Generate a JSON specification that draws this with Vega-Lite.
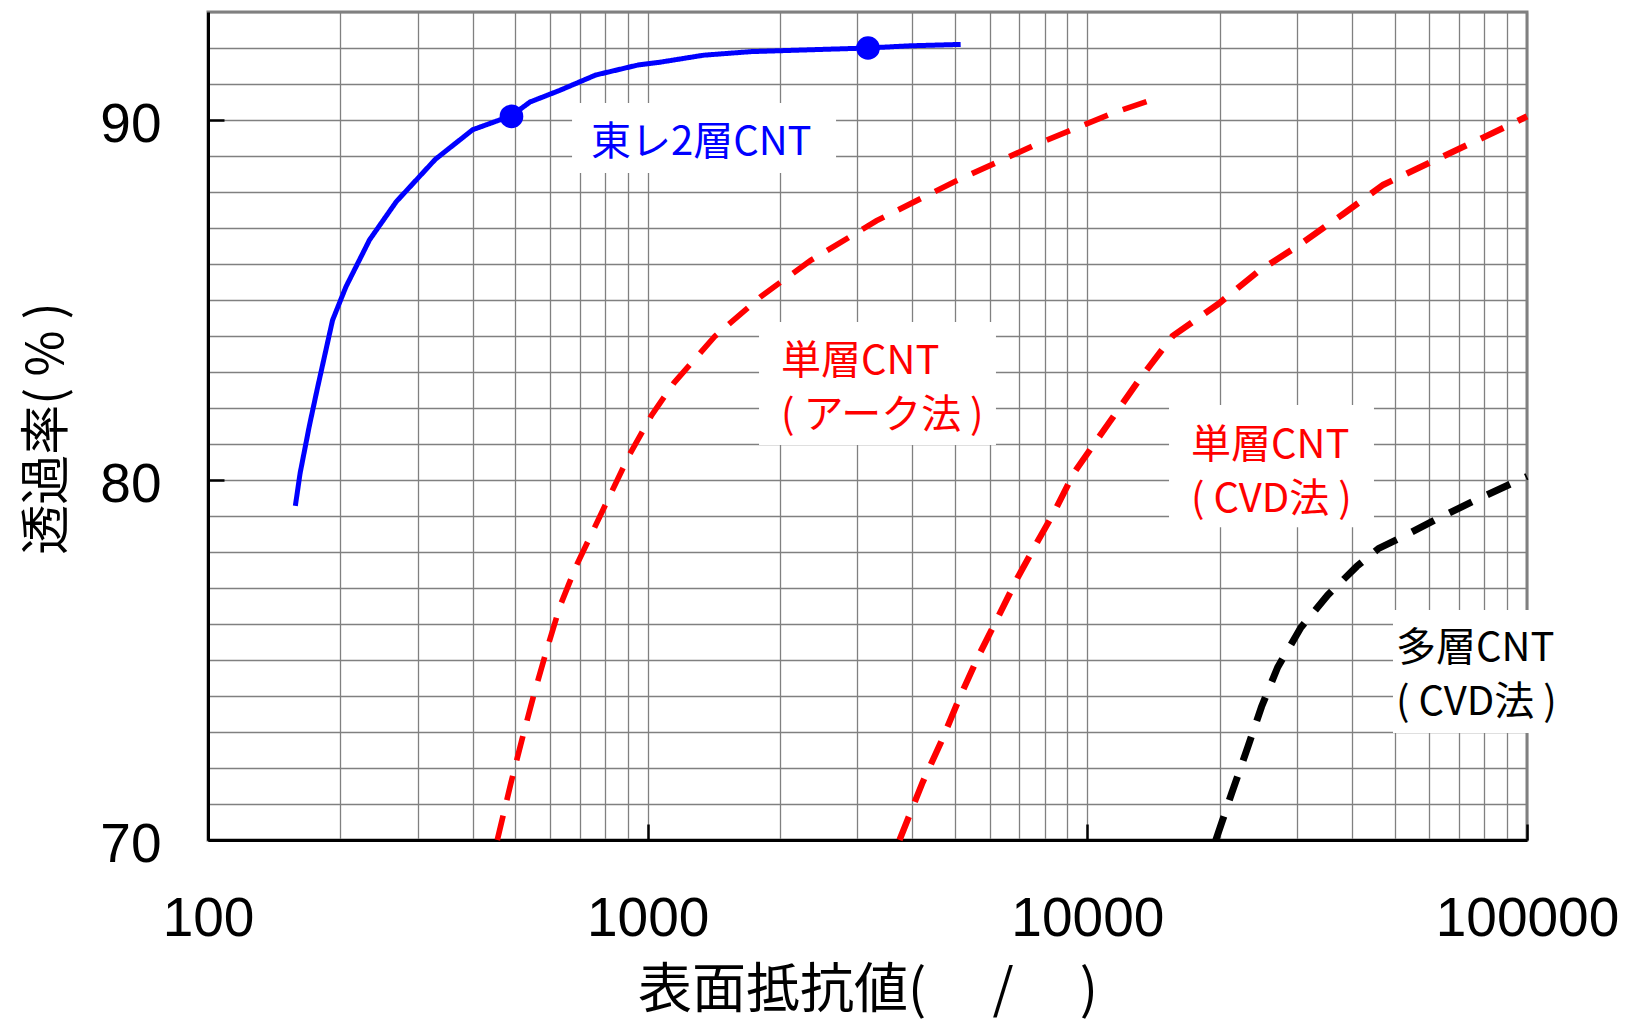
{
  "$schema": "https://vega.github.io/schema/vega-lite/v6.json",
  "width": 1319,
  "height": 828,
  "autosize": {"type": "none"},
  "padding": {"left": 208, "top": 12, "right": 105, "bottom": 182},
  "background": "white",
  "config": {
    "view": {"stroke": "#808080", "strokeWidth": 3},
    "axis": {"labelColor": "black", "titleColor": "black"}
  },
  "datasets": {
    "curves": [
      {"series": "toray", "R": 158, "T": 79.28},
      {"series": "toray", "R": 162, "T": 80.19},
      {"series": "toray", "R": 170, "T": 81.5},
      {"series": "toray", "R": 177, "T": 82.5},
      {"series": "toray", "R": 192, "T": 84.44},
      {"series": "toray", "R": 206, "T": 85.37},
      {"series": "toray", "R": 233, "T": 86.67},
      {"series": "toray", "R": 268, "T": 87.73},
      {"series": "toray", "R": 329, "T": 88.91},
      {"series": "toray", "R": 400, "T": 89.73},
      {"series": "toray", "R": 490, "T": 90.12},
      {"series": "toray", "R": 540, "T": 90.5},
      {"series": "toray", "R": 630, "T": 90.82},
      {"series": "toray", "R": 762, "T": 91.25},
      {"series": "toray", "R": 952, "T": 91.53},
      {"series": "toray", "R": 1060, "T": 91.6},
      {"series": "toray", "R": 1340, "T": 91.8},
      {"series": "toray", "R": 1722, "T": 91.9},
      {"series": "toray", "R": 2193, "T": 91.94},
      {"series": "toray", "R": 3171, "T": 92.0},
      {"series": "toray", "R": 3936, "T": 92.06},
      {"series": "toray", "R": 5151, "T": 92.1},
      {"series": "arc", "R": 455, "T": 70.0},
      {"series": "arc", "R": 489, "T": 71.6},
      {"series": "arc", "R": 518, "T": 72.8},
      {"series": "arc", "R": 550, "T": 74.0},
      {"series": "arc", "R": 590, "T": 75.3},
      {"series": "arc", "R": 632, "T": 76.5},
      {"series": "arc", "R": 687, "T": 77.6},
      {"series": "arc", "R": 745, "T": 78.5},
      {"series": "arc", "R": 808, "T": 79.4},
      {"series": "arc", "R": 909, "T": 80.7},
      {"series": "arc", "R": 1021, "T": 81.8},
      {"series": "arc", "R": 1148, "T": 82.7},
      {"series": "arc", "R": 1424, "T": 84.0},
      {"series": "arc", "R": 1811, "T": 85.1},
      {"series": "arc", "R": 2348, "T": 86.1},
      {"series": "arc", "R": 3315, "T": 87.2},
      {"series": "arc", "R": 5012, "T": 88.3},
      {"series": "arc", "R": 7580, "T": 89.3},
      {"series": "arc", "R": 11470, "T": 90.2},
      {"series": "arc", "R": 14340, "T": 90.6},
      {"series": "cvd", "R": 3740, "T": 70.0},
      {"series": "cvd", "R": 4220, "T": 71.6},
      {"series": "cvd", "R": 4680, "T": 72.8},
      {"series": "cvd", "R": 5100, "T": 73.9},
      {"series": "cvd", "R": 5650, "T": 75.1},
      {"series": "cvd", "R": 6270, "T": 76.2},
      {"series": "cvd", "R": 6950, "T": 77.3},
      {"series": "cvd", "R": 7710, "T": 78.3},
      {"series": "cvd", "R": 8400, "T": 79.1},
      {"series": "cvd", "R": 9325, "T": 80.2},
      {"series": "cvd", "R": 11070, "T": 81.5},
      {"series": "cvd", "R": 13150, "T": 82.8},
      {"series": "cvd", "R": 15630, "T": 84.0},
      {"series": "cvd", "R": 19900, "T": 84.9},
      {"series": "cvd", "R": 24500, "T": 85.8},
      {"series": "cvd", "R": 30100, "T": 86.5},
      {"series": "cvd", "R": 38300, "T": 87.4},
      {"series": "cvd", "R": 47100, "T": 88.2},
      {"series": "cvd", "R": 62100, "T": 88.9},
      {"series": "cvd", "R": 79100, "T": 89.5},
      {"series": "cvd", "R": 100000, "T": 90.1},
      {"series": "mw", "R": 19600, "T": 70.0},
      {"series": "mw", "R": 21300, "T": 71.3},
      {"series": "mw", "R": 23200, "T": 72.6},
      {"series": "mw", "R": 24900, "T": 73.7},
      {"series": "mw", "R": 27100, "T": 74.8},
      {"series": "mw", "R": 30600, "T": 75.9},
      {"series": "mw", "R": 35200, "T": 76.8},
      {"series": "mw", "R": 41000, "T": 77.6},
      {"series": "mw", "R": 46000, "T": 78.1},
      {"series": "mw", "R": 52700, "T": 78.45},
      {"series": "mw", "R": 62000, "T": 78.9},
      {"series": "mw", "R": 76400, "T": 79.44},
      {"series": "mw", "R": 100000, "T": 80.1}
    ],
    "dots": [
      {"series": "toray", "R": 490, "T": 90.1},
      {"series": "toray", "R": 3171, "T": 92.0}
    ],
    "boxes": [
      {"R1": 673, "R2": 2682, "T1": 88.53, "T2": 90.47},
      {"R1": 1792, "R2": 6197, "T1": 80.97, "T2": 84.39},
      {"R1": 15340, "R2": 44870, "T1": 78.69, "T2": 82.08},
      {"R1": 49570, "R2": 115800, "T1": 72.97, "T2": 76.39}
    ],
    "labels": [
      {"series": "toray", "label": "東レ2層CNT", "R": 743, "T": 89.36},
      {"series": "arc", "label": "単層CNT", "R": 2011, "T": 83.27},
      {"series": "arc", "label": "( アーク法 )", "R": 2011, "T": 81.79},
      {"series": "cvd", "label": "単層CNT", "R": 17210, "T": 80.94},
      {"series": "cvd", "label": "( CVD法 )", "R": 17210, "T": 79.44},
      {"series": "mw", "label": "多層CNT", "R": 50350, "T": 75.3},
      {"series": "mw", "label": "( CVD法 )", "R": 50350, "T": 73.81}
    ]
  },
  "encoding": {
    "x": {
      "field": "R", "type": "quantitative",
      "scale": {"type": "log", "domain": [100, 100000], "nice": false},
      "axis": {
        "title": "表面抵抗値(　 /　 )",
        "values": [100, 200, 300, 400, 500, 600, 700, 800, 900, 1000, 2000, 3000, 4000, 5000, 6000, 7000, 8000, 9000, 10000, 20000, 30000, 40000, 50000, 60000, 70000, 80000, 90000, 100000],
        "format": "d",
        "labelExpr": "indexof([100, 1000, 10000, 100000], datum.value) >= 0 ? datum.label : ''",
        "labelFont": "Liberation Sans",
        "labelFontSize": 55,
        "labelPadding": 68,
        "labelLimit": 1000,
        "labelFlush": false,
        "labelOverlap": false,
        "labelBound": false,
        "grid": true,
        "gridColor": "#808080",
        "gridWidth": 1.3,
        "tickSize": -16,
        "tickWidth": 2.5,
        "tickColor": {"condition": {"test": "indexof([100, 1000, 10000, 100000], datum.value) >= 0", "value": "black"}, "value": "transparent"},
        "domainColor": "black",
        "domainWidth": 3,
        "titleFont": "Noto Sans CJK JP",
        "titleFontSize": 54,
        "titleFontWeight": "normal",
        "titleLimit": 2000,
        "titleY": 151,
        "titleBaseline": "middle"
      }
    },
    "y": {
      "field": "T", "type": "quantitative",
      "scale": {"domain": [70, 93], "nice": false, "zero": false},
      "axis": {
        "title": "透過率( % )",
        "values": [70, 71, 72, 73, 74, 75, 76, 77, 78, 79, 80, 81, 82, 83, 84, 85, 86, 87, 88, 89, 90, 91, 92, 93],
        "labelExpr": "datum.value % 10 == 0 ? datum.label : ''",
        "labelFont": "Liberation Sans",
        "labelFontSize": 55,
        "labelPadding": 63,
        "labelOffset": 4,
        "labelLimit": 1000,
        "labelOverlap": false,
        "labelBound": false,
        "labelFlush": false,
        "grid": true,
        "gridColor": "#808080",
        "gridWidth": 1.3,
        "tickSize": -16,
        "tickWidth": 2.5,
        "tickColor": {"condition": {"test": "datum.value % 10 == 0", "value": "black"}, "value": "transparent"},
        "domainColor": "black",
        "domainWidth": 3,
        "titleFont": "Noto Sans CJK JP",
        "titleFontSize": 50,
        "titleFontWeight": "normal",
        "titleLimit": 2000,
        "titleX": -161,
        "titleY": 416,
        "titleAngle": -90,
        "titleAlign": "center",
        "titleBaseline": "middle"
      }
    }
  },
  "layer": [
    {
      "data": {"name": "boxes"},
      "mark": {"type": "rect", "fill": "white", "stroke": null},
      "encoding": {
        "x": {"field": "R1", "type": "quantitative"},
        "x2": {"field": "R2"},
        "y": {"field": "T1", "type": "quantitative"},
        "y2": {"field": "T2"}
      }
    },
    {
      "data": {"name": "curves"},
      "mark": {"type": "line", "interpolate": "linear"},
      "encoding": {
        "detail": {"field": "series"},
        "color": {
          "field": "series", "type": "nominal", "legend": null,
          "scale": {"domain": ["toray", "arc", "cvd", "mw"], "range": ["#0000ff", "#ff0000", "#ff0000", "#000000"]}
        },
        "strokeDash": {
          "field": "series", "type": "nominal", "legend": null,
          "scale": {"domain": ["toray", "arc", "cvd", "mw"], "range": [[1, 0], [25, 16], [25, 16], [25, 17]]}
        },
        "strokeWidth": {
          "field": "series", "type": "nominal", "legend": null,
          "scale": {"domain": ["toray", "arc", "cvd", "mw"], "range": [5, 7, 7, 6.5]}
        }
      }
    },
    {
      "data": {"name": "dots"},
      "mark": {"type": "circle", "size": 560, "opacity": 1, "color": "#0000ff"},
      "encoding": {}
    },
    {
      "data": {"name": "labels"},
      "mark": {"type": "text", "align": "left", "baseline": "middle", "font": "Noto Sans CJK JP", "fontSize": 40},
      "encoding": {
        "text": {"field": "label"},
        "color": {
          "field": "series", "type": "nominal", "legend": null,
          "scale": {"domain": ["toray", "arc", "cvd", "mw"], "range": ["#0000ff", "#ff0000", "#ff0000", "#000000"]}
        }
      }
    }
  ]
}
